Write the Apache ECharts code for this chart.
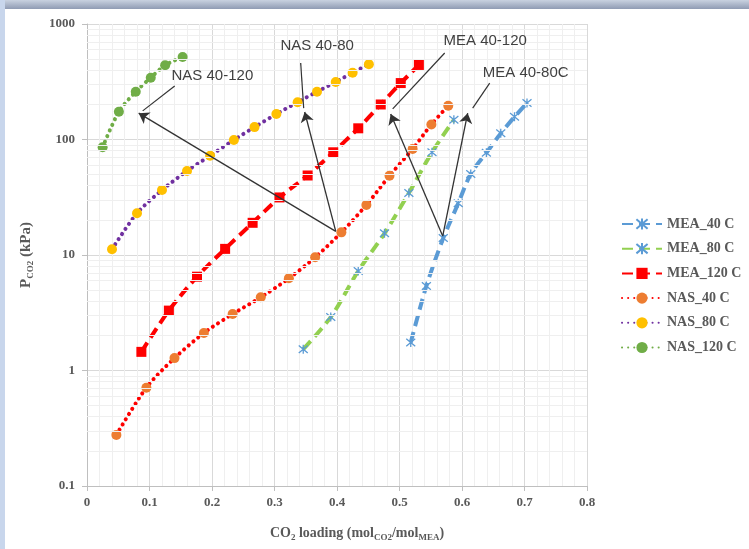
<!DOCTYPE html>
<html>
<head>
<meta charset="utf-8">
<title>PCO2 vs CO2 loading</title>
<script src="https://cdn.jsdelivr.net/npm/echarts@6/dist/echarts.min.js"></script>
<style>
html, body { margin: 0; padding: 0; background: #fff; }
#main { width: 749px; height: 549px; }
</style>
</head>
<body>
<div id="main"></div>
<script>
// CO2 loading (x) and P CO2 in kPa (y)
var mea40X = [0.518, 0.543, 0.570, 0.594, 0.614, 0.639, 0.662, 0.684, 0.704];
var mea40Y = [1.75, 5.39, 14.0, 28.0, 50.3, 76.7, 113, 157, 207];

var mea80X = [0.346, 0.390, 0.434, 0.476, 0.515, 0.552, 0.587];
var mea80Y = [1.53, 2.90, 7.27, 15.4, 34.4, 77.5, 148];

var mea120X = [0.087, 0.131, 0.176, 0.221, 0.265, 0.308, 0.353, 0.394, 0.434, 0.470, 0.502, 0.531];
var mea120Y = [1.45, 3.30, 6.49, 11.3, 19.0, 31.5, 48.8, 77.5, 125, 201, 308, 442];

var nas40X = [0.047, 0.095, 0.140, 0.187, 0.233, 0.278, 0.323, 0.365, 0.407, 0.447, 0.484, 0.521, 0.551, 0.578];
var nas40Y = [0.277, 0.71, 1.28, 2.11, 3.08, 4.30, 6.28, 9.55, 15.7, 27.1, 48.5, 82.8, 135, 196];

var nas80X = [0.040, 0.080, 0.120, 0.160, 0.197, 0.235, 0.268, 0.303, 0.337, 0.368, 0.398, 0.425, 0.451];
var nas80Y = [11.2, 23.0, 36.5, 53.4, 72.4, 99, 128, 166, 210, 259, 315, 379, 448];

var nas120X = [0.025, 0.051, 0.078, 0.102, 0.125, 0.153];
var nas120Y = [85.6, 174, 259, 343, 439, 518];

var seriesNames = ['MEA_40 C', 'MEA_80 C', 'MEA_120 C', 'NAS_40 C', 'NAS_80 C', 'NAS_120 C'];

// callout labels and arrows (data coordinates)
var calloutText = ['NAS 40-120', 'NAS 40-80', 'MEA 40-120', 'MEA 40-80C'];
var calloutPos = [[0.2006, 355], [0.3683, 645], [0.6371, 713], [0.7019, 380]];
var leaderFrom = [[0.1403, 290], [0.3419, 459], [0.5723, 561], [0.6443, 308]];
var leaderTo = [[0.0891, 177], [0.3467, 187], [0.4891, 184], [0.6171, 187]];
var arrowFrom = [[0.398, 16.0], [0.398, 16.0], [0.5691, 14.6], [0.5691, 14.6]];
var arrowTo = [[0.0827, 169], [0.3483, 173], [0.4859, 166], [0.6091, 169]];

// log grid: minor lines at 2..9 of each decade
var decades = [0.1, 1, 10, 100];
var minorMult = [2, 3, 4, 5, 6, 7, 8, 9];

function pairs(xs, ys) {
  var out = [];
  for (var i = 0; i < xs.length; i++) out.push([xs[i], ys[i]]);
  return out;
}

var minorLines = [];
decades.forEach(function (d) {
  minorMult.forEach(function (m) { minorLines.push({ yAxis: +(d * m).toPrecision(3) }); });
});

var star = 'path://M0,0L10,10M10,0L0,10M5,-1L5,11';
var serif = 'Liberation Serif, Times New Roman, serif';
var txtGrey = '#595959';

function dashSeries(name, xs, ys, color, symbol, symColor, size) {
  var isStar = symbol === star;
  return {
    name: name, type: 'line', z: 3,
    data: pairs(xs, ys),
    smooth: 0.3,
    symbol: symbol, symbolSize: size, showAllSymbol: true,
    lineStyle: { color: color, width: 4, type: [11, 6] },
    itemStyle: isStar
      ? { color: 'rgba(0,0,0,0)', borderColor: symColor, borderWidth: 1.3 }
      : { color: symColor, borderWidth: 0 },
    emphasis: { disabled: true }
  };
}

function dotSeries(name, xs, ys, color, symColor, size) {
  return {
    name: name, type: 'line', z: 3,
    data: pairs(xs, ys),
    smooth: 0.3,
    symbol: 'circle', symbolSize: size, showAllSymbol: true,
    lineStyle: { color: color, width: 4, type: [0.1, 6], cap: 'round' },
    itemStyle: { color: symColor, borderWidth: 0 },
    emphasis: { disabled: true }
  };
}

var chart = echarts.init(document.getElementById('main'));

chart.setOption({
  animation: false,
  backgroundColor: '#fff',
  graphic: [
    { type: 'rect', left: 0, top: 0, shape: { width: 749, height: 9 },
      style: { fill: new echarts.graphic.LinearGradient(0, 0, 0, 1, [
        { offset: 0, color: '#c9d2e0' }, { offset: 1, color: '#8f9bb3' }]) }, z: 100 },
    { type: 'rect', left: 0, top: 0, shape: { width: 5, height: 549 },
      style: { fill: '#c8d6ec' }, z: 100 }
  ],
  grid: { left: 87, right: 162, top: 24, bottom: 63, outerBoundsMode: 'none', containLabel: false },
  legend: {
    data: seriesNames,
    orient: 'vertical',
    left: 616, top: 212,
    itemWidth: 40, itemHeight: 14, itemGap: 10.7,
    selectedMode: false,
    textStyle: { fontFamily: serif, fontSize: 14, fontWeight: 'bold', color: txtGrey }
  },
  xAxis: {
    type: 'value', min: 0, max: 0.8, interval: 0.1,
    name: '{n|CO}{s|2}{n| loading (mol}{s|CO2}{n|/mol}{s|MEA}{n|)}',
    nameLocation: 'middle', nameGap: 38,
    nameTextStyle: {
      padding: [0, 0, 0, 40],
      rich: {
        n: { fontFamily: serif, fontSize: 14, fontWeight: 'bold', color: txtGrey, verticalAlign: 'middle', lineHeight: 18 },
        s: { fontFamily: serif, fontSize: 9, fontWeight: 'bold', color: txtGrey, verticalAlign: 'bottom', lineHeight: 12 }
      }
    },
    axisLine: { show: true, lineStyle: { color: '#bfbfbf' } },
    axisTick: { show: true, length: 5, lineStyle: { color: '#bfbfbf' } },
    axisLabel: { fontFamily: serif, fontSize: 13, fontWeight: 'bold', color: txtGrey, margin: 10 },
    splitLine: { show: true, lineStyle: { color: '#d9d9d9', width: 1 } },
    minorTick: { show: false, splitNumber: 5 },
    minorSplitLine: { show: true, lineStyle: { color: '#efefef', width: 1 } }
  },
  yAxis: {
    type: 'log', logBase: 10, min: 0.1, max: 1000,
    name: '{n|P}{s|CO2}{n| (kPa)}',
    nameLocation: 'middle', nameGap: 52,
    nameTextStyle: {
      rich: {
        n: { fontFamily: serif, fontSize: 15, fontWeight: 'bold', color: txtGrey, verticalAlign: 'middle', lineHeight: 18 },
        s: { fontFamily: serif, fontSize: 9, fontWeight: 'bold', color: txtGrey, verticalAlign: 'bottom', lineHeight: 12 }
      }
    },
    axisLine: { show: true, lineStyle: { color: '#bfbfbf' } },
    axisTick: { show: true, length: 5, lineStyle: { color: '#bfbfbf' } },
    axisLabel: {
      fontFamily: serif, fontSize: 13, fontWeight: 'bold', color: txtGrey, margin: 12,
      formatter: function (v) { return String(+v.toPrecision(3)); }
    },
    splitLine: { show: true, lineStyle: { color: '#d9d9d9', width: 1 } }
  },
  series: [
    {
      name: 'minor grid', type: 'line', data: [], z: 1, silent: true,
      markLine: {
        silent: true, symbol: ['none', 'none'], label: { show: false },
        lineStyle: { color: '#efefef', width: 1, type: 'solid' },
        emphasis: { disabled: true },
        data: minorLines
      }
    },
    dashSeries(seriesNames[0], mea40X, mea40Y, '#5b9bd5', star, '#5b9bd5', 9),
    dashSeries(seriesNames[1], mea80X, mea80Y, '#92d050', star, '#5b9bd5', 9),
    dashSeries(seriesNames[2], mea120X, mea120Y, '#ff0000', 'rect', '#ff0000', 10),
    dotSeries(seriesNames[3], nas40X, nas40Y, '#ff0000', '#ed7d31', 10),
    dotSeries(seriesNames[4], nas80X, nas80Y, '#7030a0', '#ffc000', 10),
    dotSeries(seriesNames[5], nas120X, nas120Y, '#70ad47', '#70ad47', 10),
    {
      name: 'leaders', type: 'line', data: [], z: 5, silent: true,
      markLine: {
        silent: true, symbol: ['none', 'none'], label: { show: false },
        lineStyle: { color: '#333', width: 1.2, type: 'solid' },
        emphasis: { disabled: true },
        data: leaderFrom.map(function (p, i) { return [{ coord: p }, { coord: leaderTo[i] }]; })
      },
      markPoint: {
        silent: true, symbol: 'circle', symbolSize: 0,
        label: { show: true, position: 'inside', formatter: '{b}',
          fontFamily: 'Liberation Sans, Arial, sans-serif', fontSize: 15, color: '#404040' },
        data: calloutText.map(function (t, i) { return { name: t, coord: calloutPos[i] }; })
      }
    },
    {
      name: 'arrows', type: 'line', data: [], z: 5, silent: true,
      markLine: {
        silent: true, symbol: ['none', 'arrow'], symbolSize: 10, label: { show: false },
        itemStyle: { color: '#222' },
        lineStyle: { color: '#333', width: 1.3, type: 'solid' },
        emphasis: { disabled: true },
        data: arrowFrom.map(function (p, i) {
          return [{ coord: p }, { coord: arrowTo[i], symbol: 'arrow', symbolSize: 10 }];
        })
      }
    }
  ]
});
</script>
</body>
</html>
